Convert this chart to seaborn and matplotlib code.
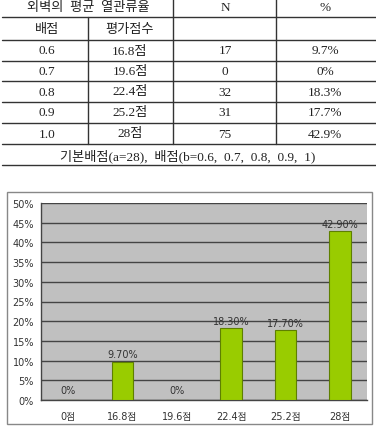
import matplotlib
matplotlib.use("Agg")
import matplotlib.pyplot as plt
import seaborn as sns
import pandas as pd
from matplotlib.lines import Line2D
from matplotlib.patches import Rectangle
from matplotlib.ticker import MultipleLocator, FixedLocator

# ---- data ----
table_weights = ["0.6", "0.7", "0.8", "0.9", "1.0"]
table_scores = ["16.8점", "19.6점", "22.4점", "25.2점", "28점"]
table_n = [17, 0, 32, 31, 75]
table_pct = ["9.7%", "0%", "18.3%", "17.7%", "42.9%"]
footnote = "기본배점(a=28),  배점(b=0.6,  0.7,  0.8,  0.9,  1)"

categories = ["0점", "16.8점", "19.6점", "22.4점", "25.2점", "28점"]
values = [0.0, 9.7, 0.0, 18.3, 17.7, 42.9]

sns.set_theme(style="white")
plt.rcParams['font.family'] = ['DejaVu Sans', 'Noto Sans CJK KR']

W, H = 376, 427
fig = plt.figure(figsize=(W / 100, H / 100), dpi=100)

def fx(x):
    return x / W

def fy(y):
    return 1 - y / H

tfont = ['Liberation Serif', 'Noto Sans CJK KR']
tcol = '#222222'
lc = '#333333'

# table lines
hlines = [18, 41, 62, 82, 103, 124, 145, 166]
for y in hlines:
    fig.add_artist(Line2D([fx(2), fx(376)], [fy(y), fy(y)], color=lc, lw=1.0))
fig.add_artist(Line2D([fx(173), fx(173)], [fy(0), fy(145)], color=lc, lw=1.0))
fig.add_artist(Line2D([fx(276), fx(276)], [fy(0), fy(145)], color=lc, lw=1.0))
fig.add_artist(Line2D([fx(88), fx(88)], [fy(18), fy(145)], color=lc, lw=1.0))

fs = 9.5
def ctext(x, y, s):
    fig.text(fx(x), fy(y), s, ha='center', va='center', fontsize=fs,
             family=tfont, color=tcol)

ctext(88, 8, "외벽의  평균  열관류율")
ctext(225, 8, "N")
ctext(325, 8, "%")
ctext(47, 30, "배점")
ctext(130, 30, "평가점수")
row_y = [51.5, 72, 92.5, 113.5, 134.5]
for i in range(len(table_weights)):
    ctext(47, row_y[i], table_weights[i])
    ctext(130, row_y[i], table_scores[i])
    ctext(225, row_y[i], str(table_n[i]))
    ctext(325, row_y[i], table_pct[i])
ctext(188, 156, footnote)

# chart outer border
fig.add_artist(Rectangle((fx(7), fy(425)), fx(372) - fx(7), fy(193) - fy(425),
                         fill=False, edgecolor='#888888', lw=1.0))

ax = fig.add_axes([fx(41), fy(401), fx(367) - fx(41), fy(204) - fy(401)])
ax.set_facecolor('#c0c0c0')

df = pd.DataFrame({"cat": categories, "val": values})
sns.barplot(data=df, x="cat", y="val", order=categories, color='#99cc00',
            width=0.4, edgecolor='#5e7f00', linewidth=0.8, saturation=1,
            ax=ax, zorder=3)

ax.set_ylim(0, 50)
ax.set_xlim(-0.5, len(categories) - 0.5)
ax.yaxis.set_major_locator(MultipleLocator(5))
ax.set_yticklabels([f"{int(t)}%" for t in ax.get_yticks()])
ax.grid(axis='y', color='#444444', lw=1.0, zorder=0)
ax.set_axisbelow(True)
ax.set_xlabel("")
ax.set_ylabel("")

for s in ['top', 'right']:
    ax.spines[s].set_visible(False)
for s in ['left', 'bottom']:
    ax.spines[s].set_color('#444444')
    ax.spines[s].set_linewidth(1.0)

ax.tick_params(axis='x', which='major', length=0, labelsize=7, colors='#333333', pad=8)
ax.xaxis.set_minor_locator(FixedLocator([i + 0.5 for i in range(len(categories) - 1)]))
ax.tick_params(axis='x', which='minor', length=3, direction='in', color='#444444')
ax.tick_params(axis='y', length=3, direction='out', labelsize=7, colors='#333333', pad=2, color='#444444')

labels = [f"{v:.2f}%" if v else "0%" for v in values]
for i, (v, lab) in enumerate(zip(values, labels)):
    ax.text(i, v + 0.6 if v else 1.2, lab, ha='center', va='bottom',
            fontsize=7, color='#333333', zorder=5)

fig.savefig("out.png", dpi=100, facecolor='white')
